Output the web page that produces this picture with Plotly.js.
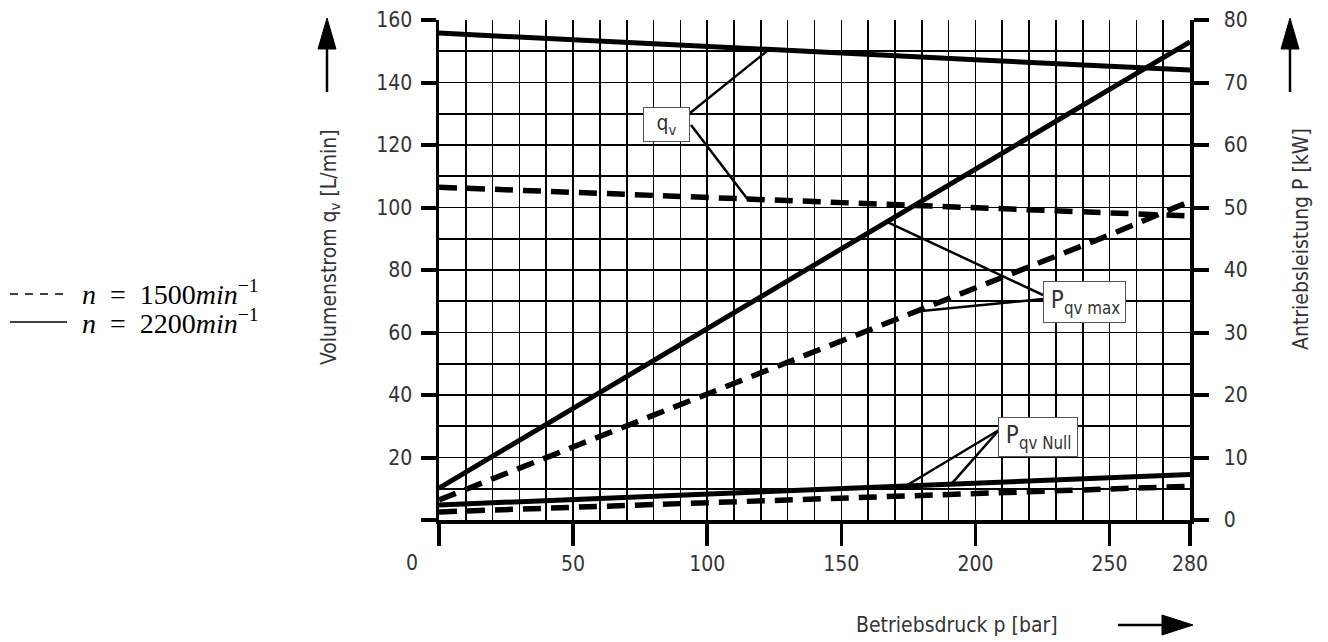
<!DOCTYPE html>
<html><head><meta charset="utf-8">
<script src="https://cdn.plot.ly/plotly-3.0.1.min.js"></script>
<style>html,body{margin:0;padding:0;background:#fff}#chart{width:1328px;height:642px}</style>
</head><body><div id="chart"></div>
<script>
// ---- data ----
const pressure   = [0, 50, 100, 150, 200, 250, 280];          // bar
const qv2200     = [155.8, 153.6, 151.5, 149.4, 147.3, 145.2, 144.0]; // L/min
const qv1500     = [106.5, 104.8, 103.2, 101.5, 99.8, 98.1, 97.3];   // L/min
const pmax2200   = [5.1, 17.9, 30.6, 43.4, 56.1, 68.9, 76.5];        // kW
const pmax1500   = [3.2, 11.7, 20.1, 28.6, 37.1, 45.6, 51.0];        // kW
const pnull2200  = [2.4, 3.3, 4.15, 5.0, 5.9, 6.8, 7.3];             // kW
const pnull1500  = [1.3, 2.0, 2.7, 3.5, 4.2, 4.9, 5.4];              // kW
const xTickVals  = [0, 50, 100, 150, 200, 250, 280];
const xTickText  = ['', '50', '100', '150', '200', '250', '280'];
const yTickVals  = [0, 20, 40, 60, 80, 100, 120, 140, 160];
const yTickText  = ['', '20', '40', '60', '80', '100', '120', '140', '160'];
const y2TickVals = [0, 10, 20, 30, 40, 50, 60, 70, 80];

const FONT = '"Liberation Sans Narrow", "DejaVu Sans Condensed", "Roboto Condensed", sans-serif';
const SERIF = '"Liberation Serif", "DejaVu Serif", serif';
const TXT = '#333333';

// plot frame in pixels
const L = 439, R = 1190, T = 20, B = 520, W = 1328, H = 642;
const X = px => (px - L) / (R - L);
const Y = py => (B - py) / (B - T);
const pxToP = px => (px - L) / (R - L) * 280;
const pyToQ = py => (B - py) / (B - T) * 160;

function interp(xs, ys, x) {
  for (let i = 0; i < xs.length - 1; i++) {
    if (x >= xs[i] && x <= xs[i + 1]) {
      const t = (x - xs[i]) / (xs[i + 1] - xs[i]);
      return ys[i] + t * (ys[i + 1] - ys[i]);
    }
  }
  return ys[ys.length - 1];
}

const dash = '18px,10px';
const traces = [
  {x: pressure, y: qv2200, yaxis: 'y', mode: 'lines', line: {color: '#000', width: 5}},
  {x: pressure, y: qv1500, yaxis: 'y', mode: 'lines', line: {color: '#000', width: 5.5, dash: dash}},
  {x: pressure, y: pmax2200, yaxis: 'y2', mode: 'lines', line: {color: '#000', width: 5}},
  {x: pressure, y: pmax1500, yaxis: 'y2', mode: 'lines', line: {color: '#000', width: 5.5, dash: dash}},
  {x: pressure, y: pnull2200, yaxis: 'y2', mode: 'lines', line: {color: '#000', width: 5}},
  {x: pressure, y: pnull1500, yaxis: 'y2', mode: 'lines', line: {color: '#000', width: 5.5, dash: dash}}
];
traces.forEach(t => { t.showlegend = false; t.hoverinfo = 'skip'; });

// leader lines (in left-axis units; kW -> L/min factor 2)
function leader(pxBox, pyBox, pCurve, ys, factor) {
  return {type: 'line', xref: 'x', yref: 'y',
    x0: pxToP(pxBox), y0: pyToQ(pyBox),
    x1: pCurve, y1: interp(pressure, ys, pCurve) * factor,
    line: {color: '#000', width: 2.5}};
}
const shapes = [
  leader(690, 113, 123, qv2200, 1),
  leader(691, 125, 115, qv1500, 1),
  leader(1043, 295, 167, pmax2200, 2),
  leader(1043, 299, 178, pmax1500, 2),
  leader(999, 430, 174, pnull2200, 2),
  leader(999, 430, 191, pnull2200, 2)
];

// arrows beside axis titles
function upArrow(cx) {
  shapes.push({type: 'line', xref: 'paper', yref: 'paper', x0: X(cx), x1: X(cx), y0: Y(92), y1: Y(44),
    line: {color: '#000', width: 2.5}});
  shapes.push({type: 'path', xref: 'paper', yref: 'paper',
    path: `M ${X(cx)} ${Y(18)} L ${X(cx - 9)} ${Y(49)} L ${X(cx + 9)} ${Y(49)} Z`,
    fillcolor: '#000', line: {color: '#000', width: 1}});
}
upArrow(327);
upArrow(1290);
shapes.push({type: 'line', xref: 'paper', yref: 'paper', x0: X(1118), x1: X(1166), y0: Y(625), y1: Y(625),
  line: {color: '#000', width: 2.5}});
shapes.push({type: 'path', xref: 'paper', yref: 'paper',
  path: `M ${X(1193)} ${Y(625)} L ${X(1162)} ${Y(615)} L ${X(1162)} ${Y(635)} Z`,
  fillcolor: '#000', line: {color: '#000', width: 1}});

// legend samples
shapes.push({type: 'line', xref: 'paper', yref: 'paper', x0: X(10), x1: X(68), y0: Y(294), y1: Y(294),
  line: {color: '#000', width: 1.5, dash: '8px,7px'}});
shapes.push({type: 'line', xref: 'paper', yref: 'paper', x0: X(10), x1: X(67), y0: Y(322), y1: Y(322),
  line: {color: '#000', width: 1.5}});

const boxFont = {family: FONT, size: 21, color: TXT};
const pBoxFont = {family: FONT, size: 24, color: TXT};
const pa = (px, py, text, extra) => Object.assign({xref: 'paper', yref: 'paper', x: X(px), y: Y(py),
  xanchor: 'center', yanchor: 'middle', text: text, showarrow: false,
  font: {family: FONT, size: 21, color: TXT}}, extra || {});
const annotations = [
  pa(330, 247, 'Volumenstrom q<sub>v</sub> [L/min]', {textangle: -90}),
  pa(1301, 239, 'Antriebsleistung P [kW]', {textangle: -90}),
  pa(957, 625, 'Betriebsdruck p [bar]'),
  pa(412, 563, '0'),
  {xref: 'x', yref: 'y', x: pxToP(666.5), y: pyToQ(124.5), xanchor: 'center', yanchor: 'middle',
   text: 'q<sub>v</sub>', showarrow: false,
   bgcolor: '#fff', bordercolor: '#555', borderwidth: 1, borderpad: 0, width: 45, height: 33, font: boxFont},
  {xref: 'x', yref: 'y', x: pxToP(1084.5), y: pyToQ(301.5), xanchor: 'center', yanchor: 'middle',
   text: '&nbsp;P<sub>qv max</sub>', showarrow: false, align: 'left',
   bgcolor: '#fff', bordercolor: '#555', borderwidth: 1, borderpad: 0, width: 81, height: 40, font: pBoxFont},
  {xref: 'x', yref: 'y', x: pxToP(1038), y: pyToQ(437), xanchor: 'center', yanchor: 'middle',
   text: '&nbsp;P<sub>qv Null</sub>', showarrow: false, align: 'left',
   bgcolor: '#fff', bordercolor: '#555', borderwidth: 1, borderpad: 0, width: 78, height: 38, font: pBoxFont},
  pa(80, 292, '<i>n</i>&nbsp;&nbsp;=&nbsp;&nbsp;1500<i>min</i><sup>−1</sup>',
     {xanchor: 'left', font: {family: SERIF, size: 28, color: '#000'}}),
  pa(80, 321, '<i>n</i>&nbsp;&nbsp;=&nbsp;&nbsp;2200<i>min</i><sup>−1</sup>',
     {xanchor: 'left', font: {family: SERIF, size: 28, color: '#000'}})
];

const layout = {
  width: W, height: H,
  margin: {l: L, r: W - R, t: T, b: H - B, pad: 0},
  paper_bgcolor: '#fff', plot_bgcolor: '#fff',
  showlegend: false,
  font: {family: FONT, size: 21, color: TXT},
  xaxis: {
    range: [0, 280], tickmode: 'array', tickvals: xTickVals, ticktext: xTickText,
    ticks: 'outside', ticklen: 22, tickwidth: 3.5, tickcolor: '#000', ticklabelstandoff: 0,
    showline: true, linewidth: 3.5, linecolor: '#000', zeroline: false,
    showgrid: true, gridcolor: '#000', gridwidth: 1.6,
    minor: {tickmode: 'linear', tick0: 0, dtick: 10, showgrid: true, gridcolor: '#000', gridwidth: 1.6, ticks: ''},
    tickfont: {family: FONT, size: 21, color: TXT}, fixedrange: true
  },
  yaxis: {
    range: [0, 160], tickmode: 'array', tickvals: yTickVals, ticktext: yTickText,
    ticks: 'outside', ticklen: 15, tickwidth: 4, tickcolor: '#000', ticklabelstandoff: 4,
    showline: true, linewidth: 3.5, linecolor: '#000', zeroline: false,
    showgrid: true, gridcolor: '#000', gridwidth: 1.6,
    minor: {tickmode: 'linear', tick0: 0, dtick: 10, showgrid: true, gridcolor: '#000', gridwidth: 1.6, ticks: ''},
    tickfont: {family: FONT, size: 21, color: TXT}, fixedrange: true
  },
  yaxis2: {
    range: [0, 80], overlaying: 'y', side: 'right', tickmode: 'array', tickvals: y2TickVals,
    ticks: 'outside', ticklen: 15, tickwidth: 4, tickcolor: '#000', ticklabelstandoff: 11,
    showline: true, linewidth: 3.5, linecolor: '#000', zeroline: false, showgrid: false,
    tickfont: {family: FONT, size: 21, color: TXT}, fixedrange: true
  },
  shapes: shapes,
  annotations: annotations
};

Plotly.newPlot('chart', traces, layout, {displayModeBar: false, staticPlot: true});
</script>
</body></html>
